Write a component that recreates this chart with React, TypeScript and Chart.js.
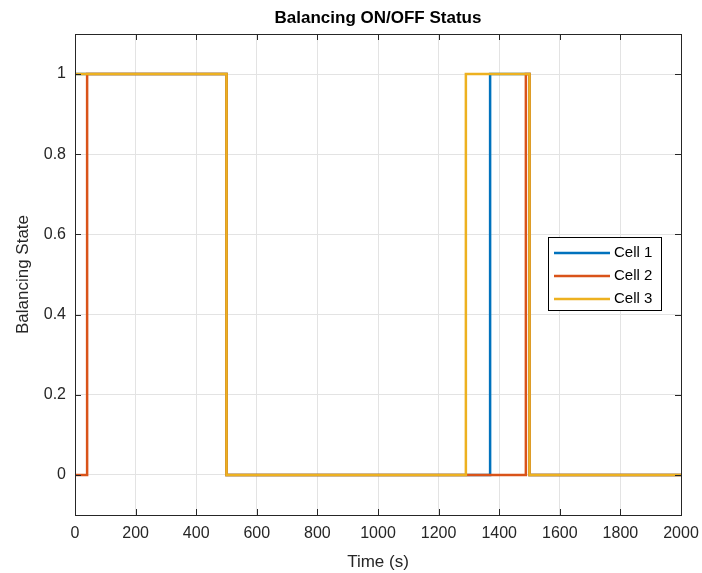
import React, { useEffect, useRef } from "react";
import { Chart, registerables } from "chart.js";

Chart.register(...registerables);

// State change times (s) and the balancing state that starts at each time
const cell1Times = [0, 500, 1370, 1500, 2000];
const cell1States = [1, 0, 1, 0, 0];
const cell2Times = [0, 40, 500, 1488, 1500, 2000];
const cell2States = [0, 1, 0, 1, 0, 0];
const cell3Times = [0, 500, 1290, 1500, 2000];
const cell3States = [1, 0, 1, 0, 0];

const seriesNames = ["Cell 1", "Cell 2", "Cell 3"];
const seriesColors = ["#0072BD", "#D95319", "#EDB120"];

const xTicks = [0, 200, 400, 600, 800, 1000, 1200, 1400, 1600, 1800, 2000];
const yTicks = [0, 0.2, 0.4, 0.6, 0.8, 1];

const FONT = "'Liberation Sans', Arial, Helvetica, sans-serif";
const AXIS_COLOR = "#262626";

const toPoints = (t: number[], s: number[]) => t.map((x, i) => ({ x, y: s[i] }));

// Title, framed axes box with inward tick marks, and an in-plot legend
const decorPlugin = {
  id: "decor",
  afterDraw(chart: any) {
    const { ctx, chartArea } = chart;
    const { left, right, top, bottom } = chartArea;
    const xs = chart.scales.x;
    const ys = chart.scales.y;
    ctx.save();

    // title
    ctx.fillStyle = "#000";
    ctx.font = `bold 17px ${FONT}`;
    ctx.textAlign = "center";
    ctx.textBaseline = "middle";
    ctx.fillText("Balancing ON/OFF Status", (left + right) / 2, 18);

    // box
    ctx.strokeStyle = AXIS_COLOR;
    ctx.lineWidth = 1;
    ctx.strokeRect(Math.round(left) + 0.5, Math.round(top) + 0.5, Math.round(right - left), Math.round(bottom - top));

    // inward ticks
    const tl = 6;
    ctx.beginPath();
    for (const v of xTicks) {
      const px = Math.round(xs.getPixelForValue(v)) + 0.5;
      ctx.moveTo(px, bottom);
      ctx.lineTo(px, bottom - tl);
      ctx.moveTo(px, top);
      ctx.lineTo(px, top + tl);
    }
    for (const v of yTicks) {
      const py = Math.round(ys.getPixelForValue(v)) + 0.5;
      ctx.moveTo(left, py);
      ctx.lineTo(left + tl, py);
      ctx.moveTo(right, py);
      ctx.lineTo(right - tl, py);
    }
    ctx.stroke();

    // legend
    const bx = 548.5, by = 237.5, bw = 113, bh = 73;
    ctx.fillStyle = "#fff";
    ctx.fillRect(bx, by, bw, bh);
    ctx.strokeStyle = "#000";
    ctx.strokeRect(bx, by, bw, bh);
    ctx.font = `15px ${FONT}`;
    ctx.textAlign = "left";
    ctx.textBaseline = "middle";
    seriesNames.forEach((name, i) => {
      const y = 253 + i * 23;
      ctx.strokeStyle = seriesColors[i];
      ctx.lineWidth = 2.5;
      ctx.beginPath();
      ctx.moveTo(554, y);
      ctx.lineTo(610, y);
      ctx.stroke();
      ctx.fillStyle = "#000";
      ctx.fillText(name, 614, y);
    });
    ctx.restore();
  },
};

export default function App() {
  const canvasRef = useRef<HTMLCanvasElement>(null);

  useEffect(() => {
    const canvas = canvasRef.current;
    if (!canvas) return;
    const data = [
      toPoints(cell1Times, cell1States),
      toPoints(cell2Times, cell2States),
      toPoints(cell3Times, cell3States),
    ];
    const chart = new Chart(canvas, {
      type: "line",
      data: {
        datasets: data.map((pts, i) => ({
          label: seriesNames[i],
          data: pts,
          borderColor: seriesColors[i],
          backgroundColor: seriesColors[i],
          borderWidth: 2.5,
          pointRadius: 0,
          stepped: "before" as const,
          fill: false,
          order: 3 - i,
        })),
      },
      options: {
        responsive: false,
        animation: false,
        layout: { padding: { top: 34, right: 21, left: 0, bottom: 0 } },
        plugins: {
          legend: { display: false },
          title: { display: false },
          tooltip: { enabled: false },
        },
        scales: {
          x: {
            type: "linear",
            min: 0,
            max: 2000,
            afterBuildTicks: (s: any) => {
              s.ticks = xTicks.map((v) => ({ value: v }));
            },
            afterFit: (s: any) => {
              s.height = 58;
              s.paddingLeft = 0;
              s.paddingRight = 0;
            },
            grid: { color: "#e3e3e3", drawTicks: false, lineWidth: 1 },
            border: { display: false },
            ticks: {
              padding: 9,
              color: AXIS_COLOR,
              font: { family: FONT, size: 16 },
              maxRotation: 0,
              callback: (v: any) => String(v),
            },
            title: {
              display: true,
              text: "Time (s)",
              color: AXIS_COLOR,
              font: { family: FONT, size: 17 },
              padding: { top: 2, bottom: 0 },
            },
          },
          y: {
            type: "linear",
            min: -0.1,
            max: 1.1,
            afterBuildTicks: (s: any) => {
              s.ticks = yTicks.map((v) => ({ value: v }));
            },
            afterFit: (s: any) => {
              s.width = 75;
              s.paddingTop = 0;
              s.paddingBottom = 0;
            },
            grid: { color: "#e3e3e3", drawTicks: false, lineWidth: 1 },
            border: { display: false },
            ticks: {
              padding: 9,
              color: AXIS_COLOR,
              font: { family: FONT, size: 16 },
              callback: (v: any) => String(Math.round(v * 10) / 10),
            },
            title: {
              display: true,
              text: "Balancing State",
              color: AXIS_COLOR,
              font: { family: FONT, size: 17 },
              padding: { top: 13, bottom: 4 },
            },
          },
        },
      },
      plugins: [decorPlugin],
    });
    return () => chart.destroy();
  }, []);

  return (
    <div style={{ position: "absolute", left: 0, top: 0, width: 702, height: 573, background: "#fff" }}>
      <canvas ref={canvasRef} width={702} height={573} style={{ display: "block" }} />
    </div>
  );
}
